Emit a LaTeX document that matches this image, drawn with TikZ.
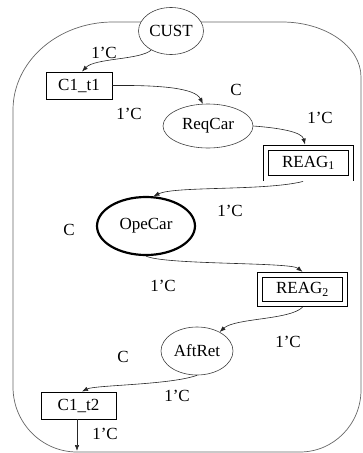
\documentclass[tikz,border=0pt]{standalone}
\usepackage{fontspec}
\setmainfont{Liberation Serif}
\usetikzlibrary{arrows.meta,shapes.geometric}
\begin{document}
\begin{tikzpicture}[x=1pt,y=-1pt,
  every node/.style={font=\fontsize{17}{20}\selectfont},
  place/.style={ellipse,draw=black!75,line width=0.6pt,fill=white,inner sep=0pt},
  trans/.style={rectangle,draw,line width=0.9pt,fill=white,inner sep=0pt},
  fused/.style={rectangle,draw,line width=0.9pt,double,double distance=4.5pt,inner sep=0pt,outer sep=3.2pt},
  arc/.style={draw=black!85,line width=0.6pt,-{Latex[length=6pt,width=4.5pt]}},
  lbl/.style={inner sep=0pt},
  frame/.style={draw=black!60,line width=0.7pt}
]
\useasboundingbox (0,0) rectangle (362,453);
% outer frame
\draw[frame] (140,22) -- (282,22)
  .. controls (325.6,22) and (361,46.6) .. (361,77)
  -- (361,390)
  .. controls (361,424.2) and (333.7,452) .. (300,452)
  -- (77,452)
  .. controls (41.7,452) and (13,422.9) .. (13,387)
  -- (13,110)
  .. controls (13,61.4) and (57.8,22) .. (113,22) -- cycle;
% nodes
\node[place,minimum width=65pt,minimum height=47pt] (cust) at (171,31) {CUST};
\node[trans,minimum width=66pt,minimum height=27pt] (c1t1) at (79,85.5) {C1\_t1};
\node[place,minimum width=90pt,minimum height=44pt] (reqcar) at (208,126) {ReqCar};
\node[fused,minimum width=85pt,minimum height=30.5pt] (reag1) at (308.5,163) {REAG\textsubscript{1}};
\node[place,line width=2.2pt,draw=black,minimum width=98pt,minimum height=58pt] (opecar) at (146,226) {OpeCar};
\node[fused,minimum width=85pt,minimum height=29pt] (reag2) at (302.5,289.5) {REAG\textsubscript{2}};
\node[place,minimum width=72pt,minimum height=48pt] (aftret) at (197,351) {AftRet};
\node[trans,minimum width=75pt,minimum height=27pt] (c1t2) at (78.5,405.5) {C1\_t2};
\coordinate (exit) at (77,451);
% arcs
\draw[arc] (cust.224) .. controls (140,60) and (95,58) .. ([xshift=3pt]c1t1.north);
\draw[arc] (c1t1.east) .. controls (160,85) and (195,88) .. (reqcar.103);
\draw[arc] (reqcar.east) .. controls (280,128) and (302,132) .. ([xshift=-3.5pt]reag1.north);
\draw[arc] ([xshift=-5.5pt]reag1.south) .. controls (265,191) and (175,186) .. (opecar.76);
\draw[arc] (opecar.south) .. controls (165,265) and (290,262) .. (reag2.north);
\draw[arc] (reag2.south) .. controls (290,320) and (235,318) .. (aftret.40);
\draw[arc] (aftret.south) .. controls (170,385) and (95,385) .. ([xshift=3.5pt]c1t2.north);
\draw[arc] (c1t2.south -| exit) -- (exit);
% labels
\node[lbl] (l1) at (104,53) {1’C};
\node[lbl] (l2) at (236,90) {C};
\node[lbl] (l3) at (129,114) {1’C};
\node[lbl] (l4) at (320,118) {1’C};
\node[lbl] (l5) at (230,211) {1’C};
\node[lbl] (l6) at (69,230) {C};
\node[lbl] (l7) at (163,286) {1’C};
\node[lbl] (l8) at (288,342) {1’C};
\node[lbl] (l9) at (123,357) {C};
\node[lbl] (l10) at (177,396) {1’C};
\node[lbl] (l11) at (105,434) {1’C};
\end{tikzpicture}
\end{document}
